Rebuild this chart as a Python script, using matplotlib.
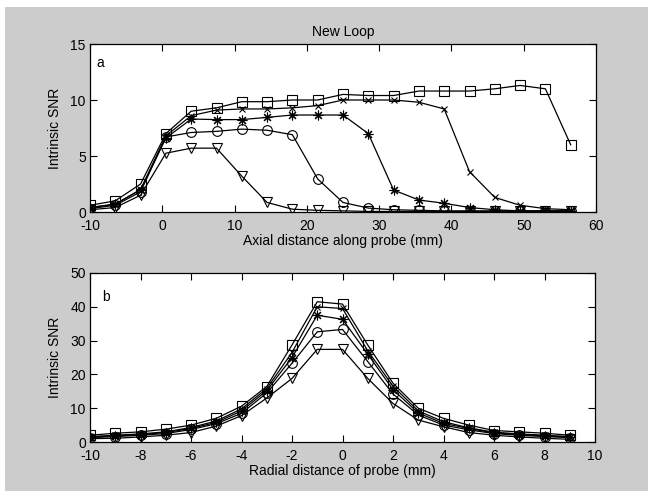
import numpy as np
import matplotlib.pyplot as plt
from matplotlib.patches import Rectangle

# ---- data ----
axial_pos = [-10, -6.5, -3, 0.5, 4, 7.5, 11, 14.5, 18, 21.5,
             25, 28.5, 32, 35.5, 39, 42.5, 46, 49.5, 53, 56.5]
axial_sq = [0.6, 1.0, 2.5, 7.0, 9.0, 9.3, 9.85, 9.85, 10.0, 10.0,
            10.5, 10.4, 10.4, 10.8, 10.8, 10.8, 11.0, 11.3, 11.0, 6.0]
axial_x = [0.4, 0.7, 2.0, 6.8, 8.6, 9.1, 9.2, 9.2, 9.3, 9.5,
           10.0, 10.0, 10.0, 9.8, 9.2, 3.6, 1.3, 0.6, 0.3, 0.2]
axial_star = [0.4, 0.7, 2.0, 6.6, 8.3, 8.25, 8.25, 8.45, 8.66, 8.66,
              8.66, 7.0, 1.96, 1.07, 0.78, 0.4, 0.2, 0.1, 0.1, 0.1]
axial_circ = [0.3, 0.6, 1.8, 6.7, 7.1, 7.2, 7.4, 7.3, 6.9, 2.95,
              0.85, 0.35, 0.2, 0.15, 0.1, 0.1, 0.1, 0.1, 0.1, 0.1]
axial_tri = [0.2, 0.4, 1.5, 5.25, 5.7, 5.7, 3.2, 0.85, 0.25, 0.15,
             0.1, 0.05, 0.05, 0.05, 0.05, 0.05, 0.05, 0.05, 0.05, 0.05]

radial_pos = list(range(-10, 10))
radial_sq = [2.0, 2.6, 3.0, 3.8, 5.0, 7.0, 10.6, 16.4, 28.7, 41.5,
             40.8, 28.7, 17.4, 10.0, 7.0, 5.0, 3.4, 3.0, 2.6, 2.0]
radial_x = [1.6, 2.0, 2.4, 3.0, 4.3, 6.2, 9.8, 15.8, 26.5, 40.0,
            39.5, 27.0, 16.5, 9.2, 6.0, 4.2, 2.9, 2.4, 2.0, 1.6]
radial_star = [1.5, 1.8, 2.2, 2.8, 4.0, 5.8, 9.2, 15.2, 25.0, 37.5,
               36.3, 26.0, 15.5, 8.6, 5.5, 4.0, 2.7, 2.2, 1.8, 1.5]
radial_circ = [1.3, 1.6, 2.0, 2.5, 3.7, 5.4, 8.5, 14.5, 23.3, 32.6,
               33.3, 23.8, 14.2, 8.0, 5.0, 3.6, 2.5, 2.0, 1.6, 1.3]
radial_tri = [1.0, 1.1, 1.5, 2.0, 2.8, 4.7, 7.8, 13.0, 18.8, 27.4,
              27.4, 18.8, 11.4, 6.5, 4.5, 2.8, 2.0, 1.5, 1.1, 0.8]

# square, cross, asterisk (MATLAB style '*'), circle, down triangle
markers = ['s', 'x', (8, 2, 0), 'o', 'v']
msizes = [7, 5, 7, 7, 7]

plt.rcParams['font.family'] = ['Liberation Sans Narrow', 'Liberation Sans', 'DejaVu Sans']
plt.rcParams['font.size'] = 10
plt.rcParams['axes.unicode_minus'] = False

fig = plt.figure(figsize=(6.48, 4.91), dpi=100, facecolor='white')
# gray MATLAB-style background, leaving a thin white strip top/left
fig.patches.append(Rectangle((5 / 648, 0), 1, 1 - 7 / 491, transform=fig.transFigure,
                             facecolor='#cccccc', edgecolor='none', zorder=-10))


def style_axes(ax):
    ax.set_facecolor('white')
    ax.tick_params(direction='in', top=True, right=True, length=5, width=0.8,
                   labelsize=10, colors='black')
    ax.tick_params(axis='x', pad=5)
    ax.tick_params(axis='y', pad=3)
    for s in ax.spines.values():
        s.set_linewidth(0.9)


def draw_series(ax, x, series):
    for ys, m, ms in zip(series, markers, msizes):
        ax.plot(x, ys, color='black', linewidth=0.9, marker=m, markersize=ms,
                markerfacecolor='none', markeredgecolor='black', markeredgewidth=0.8)


ax1 = fig.add_axes([90 / 648, 1 - 212 / 491, 506 / 648, 168 / 491])
draw_series(ax1, axial_pos, [axial_sq, axial_x, axial_star, axial_circ, axial_tri])
ax1.set_xlim(-10, 60)
ax1.set_ylim(0, 15)
ax1.set_xticks(np.arange(-10, 61, 10))
ax1.set_yticks([0, 5, 10, 15])
style_axes(ax1)
ax1.set_xlabel('Axial distance along probe (mm)', labelpad=1)
ax1.set_ylabel('Intrinsic SNR', labelpad=6)
ax1.set_title('New Loop', fontsize=10, pad=6)
ax1.text(0.012, 0.93, 'a', transform=ax1.transAxes, fontsize=10, va='top')

ax2 = fig.add_axes([90 / 648, 1 - 442 / 491, 505 / 648, 169 / 491])
draw_series(ax2, radial_pos, [radial_sq, radial_x, radial_star, radial_circ, radial_tri])
ax2.set_xlim(-10, 10)
ax2.set_ylim(0, 50)
ax2.set_xticks(np.arange(-10, 11, 2))
ax2.set_yticks(np.arange(0, 51, 10))
style_axes(ax2)
ax2.set_xlabel('Radial distance of probe (mm)', labelpad=1)
ax2.set_ylabel('Intrinsic SNR', labelpad=6)
ax2.text(0.025, 0.90, 'b', transform=ax2.transAxes, fontsize=10, va='top')

fig.savefig('out.png', dpi=100, facecolor=fig.get_facecolor())
